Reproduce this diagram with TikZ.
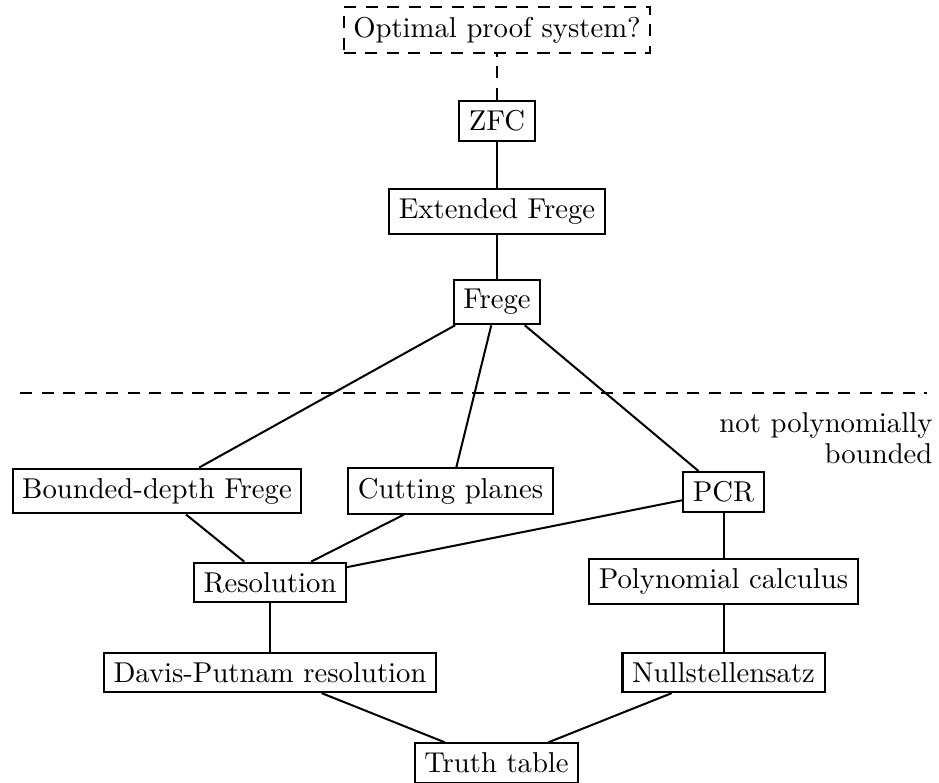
\documentclass[tikz,border=0pt]{standalone}
\begin{document}
\begin{tikzpicture}[x=0.3484pt,y=-0.3484pt,
  sys/.style={draw,line width=0.7pt,inner sep=3.33pt},
  conn/.style={line width=0.7pt},
  dsh/.style={line width=0.7pt,dash pattern=on 4.2pt off 3.3pt}]
\useasboundingbox (0,0) rectangle (939,783);
\node[sys,dsh] (opt) at (497,30) {Optimal proof system?};
\node[sys] (zfc) at (497,121) {ZFC};
\node[sys] (ef) at (497,211.5) {Extended Frege};
\node[sys] (frege) at (497,302) {Frege};
\node[sys] (bd) at (157,491) {Bounded-depth Frege};
\node[sys] (cp) at (450.5,491) {Cutting planes};
\node[sys] (pcr) at (723.5,492) {PCR};
\node[sys] (res) at (270,582.5) {Resolution};
\node[sys] (pc) at (723.5,581.5) {Polynomial calculus};
\node[sys] (dp) at (270,672.5) {Davis-Putnam resolution};
\node[sys] (ns) at (723.5,672.5) {Nullstellensatz};
\node[sys] (tt) at (496.5,763) {Truth table};
\coordinate (l1) at (20,393);
\coordinate (l2) at (927,393);
\node[anchor=east,inner sep=0pt,align=right] (npb) at (933,438) {not polynomially\\[-1pt]bounded};
\draw[dsh] (zfc) -- (opt);
\draw[dsh] (l1) -- (l2);
\draw[conn] (zfc) -- (ef);
\draw[conn] (ef) -- (frege);
\draw[conn] (frege) -- (bd);
\draw[conn] (frege) -- (cp);
\draw[conn] (frege) -- (pcr);
\draw[conn] (bd) -- (res);
\draw[conn] (cp) -- (res);
\draw[conn] (pcr) -- (res);
\draw[conn] (pcr) -- (pc);
\draw[conn] (pc) -- (ns);
\draw[conn] (res) -- (dp);
\draw[conn] (dp) -- (tt);
\draw[conn] (ns) -- (tt);
\end{tikzpicture}
\end{document}
